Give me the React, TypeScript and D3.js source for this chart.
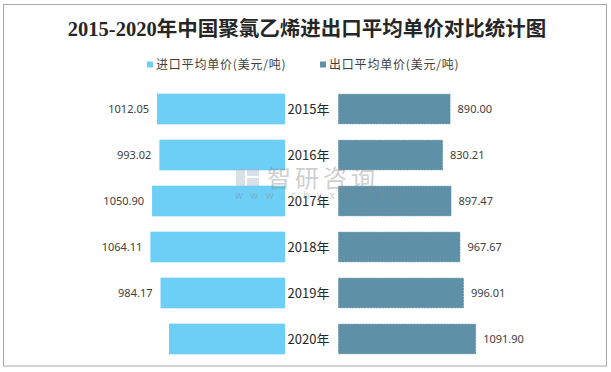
import React, { useEffect } from 'react';
import * as d3 from 'd3';

const years = ['2015年', '2016年', '2017年', '2018年', '2019年', '2020年'];
// 2020 import value has no label in the source
const importValues = [1012.05, 993.02, 1050.9, 1064.11, 984.17, 917.0];
const exportValues = [890.0, 830.21, 897.47, 967.67, 996.01, 1091.9];
const unlabeledImport = ['2020年'];
const seriesNames = ['进口平均单价(美元/吨)', '出口平均单价(美元/吨)'];
const colors = ['#6DCFF6', '#5E91A8'];

const width = 611;
const height = 372;
const centerX = 311.5;
const leftEdge = 285;
const rightEdge = 338;

const App: React.FC = () => {
  useEffect(() => {
    document.body.style.margin = '0';
  }, []);

  const y = d3.scaleBand<string>()
    .domain(years)
    .range([86, 362])
    .paddingInner(0.333)
    .paddingOuter(0.167);

  const xLeft = d3.scaleLinear().domain([0, 1200]).range([leftEdge, leftEdge - 151.8]);
  const xRight = d3.scaleLinear().domain([0, 1200]).range([rightEdge, rightEdge + 151.8]);

  const valueFont = '"Noto Sans", "DejaVu Sans", sans-serif';
  const cjkFont = '"Noto Sans CJK SC", sans-serif';

  return (
    <svg width={width} height={height} style={{ display: 'block' }}>
      <rect x={0} y={0} width={width} height={height} fill="#fff" />
      <rect x={3.5} y={4.5} width={603} height={361.5} fill="none" stroke="#a6a6a6" strokeWidth={1} />

      <text
        x={307}
        y={36}
        textAnchor="middle"
        fontSize={20.5}
        fontWeight="bold"
        fill="#262626"
        fontFamily={'"Liberation Serif", "Noto Sans CJK SC", serif'}
      >
        2015-2020年中国聚氯乙烯进出口平均单价对比统计图
      </text>

      {/* legend */}
      <g fontFamily={cjkFont} fontSize={12} fill="#404040" letterSpacing={0.8}>
        <rect x={147} y={61.5} width={6} height={6} fill={colors[0]} />
        <text x={156} y={68.5}>{seriesNames[0]}</text>
        <rect x={320} y={61.5} width={6} height={6} fill={colors[1]} />
        <text x={329} y={68.5}>{seriesNames[1]}</text>
      </g>

      {/* import bars (left) */}
      {years.map((yr, i) => (
        <rect
          key={'i' + yr}
          x={xLeft(importValues[i])}
          y={y(yr)}
          width={leftEdge - xLeft(importValues[i])}
          height={y.bandwidth()}
          fill={colors[0]}
        />
      ))}

      {/* export bars (right) */}
      {years.map((yr, i) => (
        <rect
          key={'e' + yr}
          x={rightEdge + 0.5}
          y={(y(yr) ?? 0) + 0.5}
          width={xRight(exportValues[i]) - rightEdge - 1}
          height={y.bandwidth() - 1}
          fill={colors[1]}
          stroke="#4d7f96"
          strokeWidth={0.6}
          strokeDasharray="2,1"
        />
      ))}

      {/* value labels */}
      <g fontFamily={valueFont} fontSize={11} fill="#404040">
        {years.map((yr, i) =>
          unlabeledImport.includes(yr) ? null : (
            <text
              key={'il' + yr}
              x={xLeft(importValues[i]) - 8}
              y={(y(yr) ?? 0) + y.bandwidth() / 2}
              dy="0.35em"
              textAnchor="end"
            >
              {importValues[i].toFixed(2)}
            </text>
          )
        )}
        {years.map((yr, i) => (
          <text
            key={'el' + yr}
            x={xRight(exportValues[i]) + 7}
            y={(y(yr) ?? 0) + y.bandwidth() / 2}
            dy="0.35em"
          >
            {exportValues[i].toFixed(2)}
          </text>
        ))}
      </g>

      {/* category labels */}
      <g fontFamily={cjkFont} fontSize={13} fill="#262626">
        {years.map(yr => (
          <text
            key={'c' + yr}
            x={centerX - 3}
            y={(y(yr) ?? 0) + y.bandwidth() / 2}
            dy="0.35em"
            textAnchor="middle"
          >
            {yr}
          </text>
        ))}
      </g>

      {/* watermark */}
      <g opacity={0.4} fill="#8a8a8a">
        <rect x={236} y={168} width={9} height={18} fill="#9fb4c8" />
        <rect x={247} y={168} width={12} height={8} fill="#9fb4c8" />
        <rect x={247} y={178} width={12} height={8} fill="#9fb4c8" />
        <text x={267} y={187} fontFamily={cjkFont} fontSize={24} letterSpacing={4}>智研咨询</text>
        <text x={235} y={199} fontFamily={valueFont} fontSize={10} letterSpacing={7.5}>www.chyxx.com</text>
      </g>
    </svg>
  );
};

export default App;
